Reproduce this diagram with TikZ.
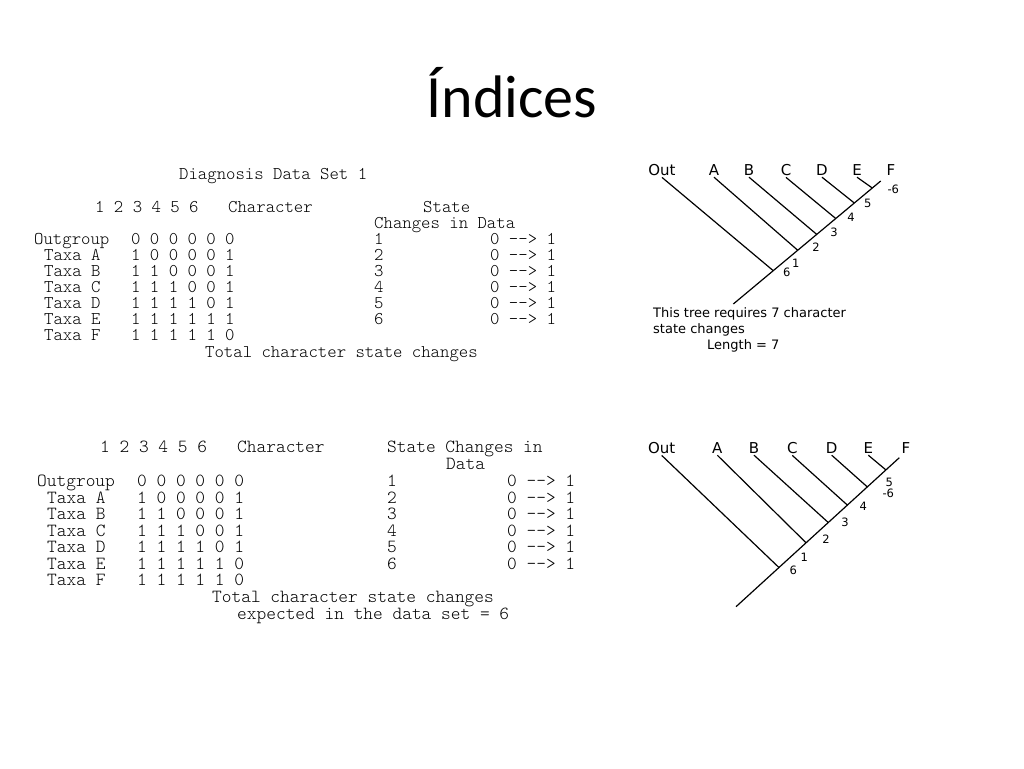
\documentclass[tikz,border=0pt]{standalone}
\usepackage{fontspec}
\setmainfont{Carlito}
\setsansfont{DejaVu Sans}
\setmonofont{lmmonolt10-regular.otf}
\usetikzlibrary{calc}
\tikzset{
  slidetitle/.style={font=\fontsize{60}{72}\selectfont,anchor=base},
  tabtext/.style={font=\ttfamily\fontsize{17.9}{18}\selectfont,anchor=base west,inner sep=0pt},
  tabtextb/.style={font=\ttfamily\fontsize{18.5}{18}\selectfont,anchor=base west,inner sep=0pt},
  taxon/.style={font=\sffamily\fontsize{15}{18}\selectfont,anchor=base,inner sep=1.5pt},
  change/.style={font=\sffamily\fontsize{11.5}{13}\selectfont,inner sep=0pt},
  caption/.style={font=\sffamily\fontsize{13}{16}\selectfont,anchor=base west,inner sep=0pt},
  branch/.style={line width=1.2pt}
}

\begin{document}
\begin{tikzpicture}[x=1pt,y=-1pt]
  \useasboundingbox (0,0) rectangle (1024,768);
  \node[slidetitle] (title) at (512,117) {Índices};

  % first data set
  \node[tabtext] (diag) at (179,179) {Diagnosis Data Set 1};
  \node[tabtext] (cols1) at (95,212.5) {1 2 3 4 5 6};
  \node[tabtext] (char1) at (228,212.5) {Character};
  \node[tabtext] (state1) at (423,212.5) {State};
  \node[tabtext] (chg1) at (374,228.5) {Changes in Data};
  \foreach \lab/\lx/\bits [count=\i] in {Outgroup/34/0 0 0 0 0 0,Taxa A/44/1 0 0 0 0 1,
      Taxa B/44/1 1 0 0 0 1,Taxa C/44/1 1 1 0 0 1,Taxa D/44/1 1 1 1 0 1,
      Taxa E/44/1 1 1 1 1 1,Taxa F/44/1 1 1 1 1 0}{
    \node[tabtext] (taxa1\i) at (\lx,228.5+16*\i) {\lab};
    \node[tabtext] (bits1\i) at (131,228.5+16*\i) {\bits};
    \ifnum\i<7
      \node[tabtext] (num1\i) at (374,228.5+16*\i) {\i};
      \node[tabtext] (step1\i) at (490,228.5+16*\i) {0 --> 1};
    \fi
  }
  \node[tabtext] (total1) at (205,357) {Total character state changes};

  % second data set
  \node[tabtextb] (cols2) at (100,452.5) {1 2 3 4 5 6};
  \node[tabtextb] (char2) at (237,452.5) {Character};
  \node[tabtextb] (state2) at (387,452.5) {State Changes in};
  \node[tabtextb] (chg2) at (446,469.5) {Data};
  \foreach \lab/\lx/\bits [count=\i] in {Outgroup/37/0 0 0 0 0 0,Taxa A/47/1 0 0 0 0 1,
      Taxa B/47/1 1 0 0 0 1,Taxa C/47/1 1 1 0 0 1,Taxa D/47/1 1 1 1 0 1,
      Taxa E/47/1 1 1 1 1 0,Taxa F/47/1 1 1 1 1 0}{
    \node[tabtextb] (taxa2\i) at (\lx,470+16.5*\i) {\lab};
    \node[tabtextb] (bits2\i) at (137,470+16.5*\i) {\bits};
    \ifnum\i<7
      \node[tabtextb] (num2\i) at (387,470+16.5*\i) {\i};
      \node[tabtextb] (step2\i) at (507,470+16.5*\i) {0 --> 1};
    \fi
  }
  \node[tabtextb] (total2) at (212,602.5) {Total character state changes};
  \node[tabtextb] (expect2) at (237,619) {expected in the data set = 6};

  % first tree
  \node[taxon] (out1) at (662,175.5) {Out};
  \node[taxon] (a1) at (714,175.5) {A};
  \node[taxon] (b1) at (749,175.5) {B};
  \node[taxon] (c1) at (786,175.5) {C};
  \node[taxon] (d1) at (822,175.5) {D};
  \node[taxon] (e1) at (857,175.5) {E};
  \node[taxon] (f1) at (891,175.5) {F};
  \coordinate (root1) at (733.3,304);
  \coordinate (tip1) at (880.7,181);
  \coordinate (jout1) at ($(root1)!0.271!(tip1)$);
  \coordinate (ja1) at ($(root1)!0.437!(tip1)$);
  \coordinate (jb1) at ($(root1)!0.566!(tip1)$);
  \coordinate (jc1) at ($(root1)!0.695!(tip1)$);
  \coordinate (jd1) at ($(root1)!0.821!(tip1)$);
  \coordinate (je1) at ($(root1)!0.943!(tip1)$);
  \draw[branch] (root1) -- (tip1);
  \draw[branch] (out1.south) -- (jout1);
  \draw[branch] (a1.south) -- (ja1);
  \draw[branch] (b1.south) -- (jb1);
  \draw[branch] (c1.south) -- (jc1);
  \draw[branch] (d1.south) -- (jd1);
  \draw[branch] (e1.south) -- (je1);
  \node[change] (ch16) at (786.7,272.7) {6};
  \node[change] (ch11) at (795.7,263.3) {1};
  \node[change] (ch12) at (816,247.7) {2};
  \node[change] (ch13) at (834,232.7) {3};
  \node[change] (ch14) at (851,217.7) {4};
  \node[change] (ch15) at (867.7,203.3) {5};
  \node[change] (ch1r) at (893.3,189) {-6};
  \node[caption] (cap1) at (653,317.5) {This tree requires 7 character};
  \node[caption] (cap2) at (653,333.5) {state changes};
  \node[caption] (len1) at (707,349) {Length = 7};

  % second tree
  \node[taxon] (out2) at (661.7,453.5) {Out};
  \node[taxon] (a2) at (717.3,453.5) {A};
  \node[taxon] (b2) at (754,453.5) {B};
  \node[taxon] (c2) at (792.3,453.5) {C};
  \node[taxon] (d2) at (831.7,453.5) {D};
  \node[taxon] (e2) at (868.3,453.5) {E};
  \node[taxon] (f2) at (906,453.5) {F};
  \coordinate (root2) at (736,606.7);
  \coordinate (tip2) at (899.3,457.7);
  \coordinate (jout2) at ($(root2)!0.263!(tip2)$);
  \coordinate (ja2) at ($(root2)!0.429!(tip2)$);
  \coordinate (jb2) at ($(root2)!0.565!(tip2)$);
  \coordinate (jc2) at ($(root2)!0.682!(tip2)$);
  \coordinate (jd2) at ($(root2)!0.804!(tip2)$);
  \coordinate (je2) at ($(root2)!0.918!(tip2)$);
  \draw[branch] (root2) -- (tip2);
  \draw[branch] (out2.south) -- (jout2);
  \draw[branch] (a2.south) -- (ja2);
  \draw[branch] (b2.south) -- (jb2);
  \draw[branch] (c2.south) -- (jc2);
  \draw[branch] (d2.south) -- (jd2);
  \draw[branch] (e2.south) -- (je2);
  \node[change] (ch26) at (793.3,570) {6};
  \node[change] (ch21) at (804.3,557.7) {1};
  \node[change] (ch22) at (826,539.3) {2};
  \node[change] (ch23) at (845,522.7) {3};
  \node[change] (ch24) at (863.3,506) {4};
  \node[change] (ch25) at (889.3,482.7) {5};
  \node[change] (ch2r) at (888.3,493.3) {-6};
\end{tikzpicture}
\end{document}
